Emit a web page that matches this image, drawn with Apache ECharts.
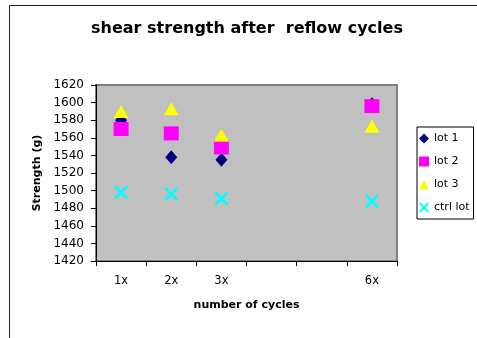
<!DOCTYPE html>
<html>
<head>
<meta charset="utf-8">
<script src="https://cdn.jsdelivr.net/npm/echarts@6/dist/echarts.min.js"></script>
<style>html,body{margin:0;padding:0;background:#fff;}#c{width:477px;height:338px;}</style>
</head>
<body>
<div id="c"></div>
<script>
const categories = ['1x', '2x', '3x', '', '', '6x'];
const lot1 = [1580, 1538, 1535, null, null, 1598];
const lot2 = [1570, 1565, 1549, null, null, 1596];
const lot3 = [1590, 1593, 1563, null, null, 1573];
const ctrlLot = [1498, 1496, 1491, null, null, 1488];
const yTicks = { min: 1420, max: 1620, step: 20 };

const xPath = 'path://M0,1.4L1.4,0L5,3.6L8.6,0L10,1.4L6.4,5L10,8.6L8.6,10L5,6.4L1.4,10L0,8.6L3.6,5Z';
const font = 'DejaVu Sans';
const chart = echarts.init(document.getElementById('c'), null, { renderer: 'canvas' });
chart.setOption({
  animation: false,
  backgroundColor: '#fff',
  title: {
    text: 'shear strength after  reflow cycles',
    left: 247, top: 21, textAlign: 'center', padding: 0,
    textStyle: { fontFamily: font, fontWeight: 'bold', fontSize: 16, color: '#000' }
  },
  graphic: [
    { type: 'line', shape: { x1: 9.5, y1: 5.5, x2: 477, y2: 5.5 }, style: { stroke: '#222', lineWidth: 1 }, z: 100 },
    { type: 'line', shape: { x1: 9.5, y1: 5.5, x2: 9.5, y2: 338 }, style: { stroke: '#222', lineWidth: 1 }, z: 100 }
  ],
  grid: {
    left: 96, right: 80, top: 85, bottom: 77,
    show: true, backgroundColor: '#C0C0C0', borderColor: '#808080', borderWidth: 2
  },
  legend: {
    orient: 'vertical', left: 417, top: 127,
    padding: [6, 4, 6, 2], itemWidth: 10, itemHeight: 10, itemGap: 12,
    borderColor: '#000', borderWidth: 1, backgroundColor: '#fff',
    textStyle: { fontFamily: font, fontSize: 11, color: '#000', padding: [0,0,0,0] },
    itemStyle: { borderWidth: 0 },
    data: ['lot 1', 'lot 2', 'lot 3', 'ctrl lot']
  },
  xAxis: {
    type: 'category', data: categories, boundaryGap: true,
    name: 'number of cycles', nameLocation: 'middle', nameGap: 39,
    nameTextStyle: { fontFamily: font, fontWeight: 'bold', fontSize: 11, color: '#000' },
    axisLine: { lineStyle: { color: '#000', width: 1 } },
    axisTick: { show: true, length: 5, inside: false, lineStyle: { color: '#000' } },
    axisLabel: { margin: 14, fontFamily: font, fontSize: 11.5, color: '#000', interval: 0 },
    splitLine: { show: false }
  },
  yAxis: {
    type: 'value', min: yTicks.min, max: yTicks.max, interval: yTicks.step,
    name: 'Strength (g)', nameLocation: 'middle', nameGap: 44, nameRotate: 90,
    nameTextStyle: { fontFamily: font, fontWeight: 'bold', fontSize: 11, color: '#000' },
    axisLine: { show: true, lineStyle: { color: '#000', width: 1 } },
    axisTick: { show: true, length: 5, lineStyle: { color: '#000' } },
    axisLabel: { margin: 12, fontFamily: font, fontSize: 12, color: '#000', formatter: v => String(v) },
    splitLine: { show: false }
  },
  series: [
    { name: 'lot 1', type: 'scatter', data: lot1, symbol: 'diamond', symbolSize: [12, 14],
      itemStyle: { color: '#000080', opacity: 1 }, emphasis: { disabled: true } },
    { name: 'lot 2', type: 'scatter', data: lot2, symbol: 'rect', symbolSize: [15, 14],
      itemStyle: { color: '#FF00FF', opacity: 1 }, emphasis: { disabled: true } },
    { name: 'lot 3', type: 'scatter', data: lot3, symbol: 'triangle', symbolSize: [15, 13],
      itemStyle: { color: '#FFFF00', opacity: 1 }, emphasis: { disabled: true } },
    { name: 'ctrl lot', type: 'scatter', data: ctrlLot, symbol: xPath, symbolSize: [14, 14],
      itemStyle: { color: '#00FFFF', opacity: 1 }, emphasis: { disabled: true } }
  ]
});
</script>
</body>
</html>
